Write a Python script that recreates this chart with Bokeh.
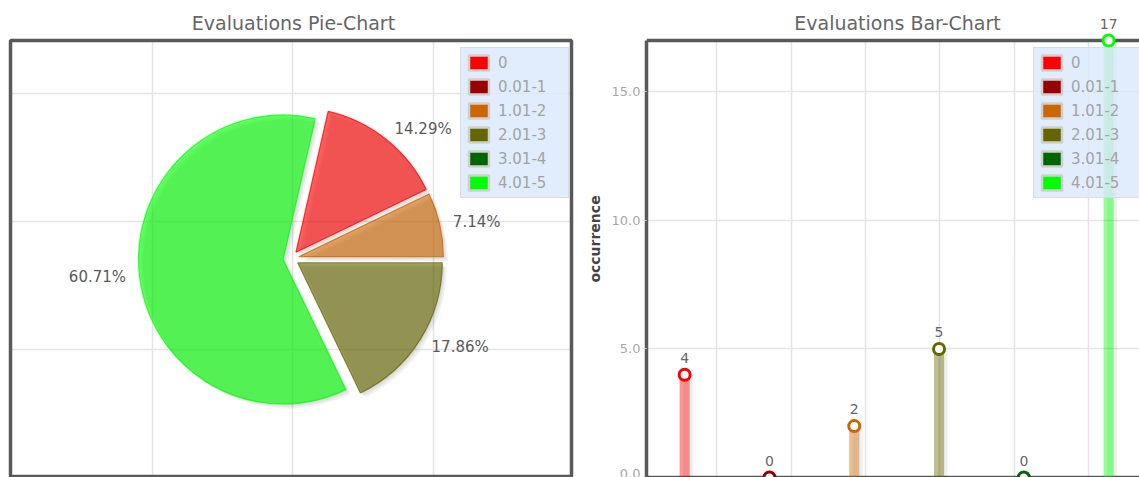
import math
from bokeh.plotting import figure
from bokeh.layouts import row
from bokeh.models import (Range1d, FixedTicker, Grid, ColumnDataSource, LabelSet, Label,
                          Legend, LegendItem, PrintfTickFormatter, Span, BoxAnnotation)
from bokeh.core.properties import value, field
from bokeh.transform import dodge
from bokeh.embed import file_html
from bokeh.resources import INLINE

# ---------------- data ----------------
categories = ["0", "0.01-1", "1.01-2", "2.01-3", "3.01-4", "4.01-5"]
counts = [4, 0, 2, 5, 0, 17]
colors = ["#ff0000", "#990000", "#cc6600", "#666600", "#006600", "#00ff00"]
y_ticks = [0, 5, 10, 15]
y_max = 17

# ---------------- style ----------------
FONT = "DejaVu Sans"
TITLE_COLOR = "#666666"
GRID_COLOR = "#e4e4e4"
OUTLINE = "#595959"
PIE_START_DEG = 77.14
PIE_R = 144.5
PIE_EXPLODE = 8
PIE_LABEL_R = 166
LEG_W, LEG_H = 107, 149
H = 477          # page height (px)
TOP = 40         # top of the plotting boxes (px from page top)


def remove_grids(p):
    p.center = [r for r in p.center if not isinstance(r, Grid)]


def mask(p, **kw):
    p.add_layout(BoxAnnotation(fill_color="white", fill_alpha=1.0, line_color=None,
                               level="underlay", **kw))


def add_title(p, x, text):
    p.add_layout(Label(x=x, y=H - 22, x_units="screen", y_units="screen", text=text,
                       text_align="center", text_baseline="middle", text_font=FONT,
                       text_font_size="19px", text_color=TITLE_COLOR))


def make_legend(p, vx, vy):
    src = ColumnDataSource(dict(x=[float("nan")] * len(categories),
                                y=[float("nan")] * len(categories),
                                color=colors))
    r = p.rect(x="x", y="y", width=1, height=1, fill_color="color",
               line_color="#d0d0d0", line_width=2.5, source=src)
    items = [LegendItem(label=cat, renderers=[r], index=i)
             for i, cat in enumerate(categories)]
    leg = Legend(items=items, location=(vx, vy), margin=0, padding=5,
                 spacing=5, glyph_width=25, glyph_height=19, label_standoff=7,
                 label_width=65, label_text_font=FONT, label_text_font_size="15px",
                 label_text_color="#a3a3a3", background_fill_color="#d9e8fb",
                 background_fill_alpha=0.8, border_line_color="#c9d2dc",
                 border_line_width=1.5)
    p.add_layout(leg)


# ---------------- pie chart (data units = page pixels, y measured from bottom) ----------------
W1 = 580
BOX_L, BOX_R, BOX_B, BOX_T = 10, 571, 1, H - TOP
p1 = figure(width=W1, height=H, x_range=Range1d(0, W1), y_range=Range1d(0, H),
            x_axis_location=None, y_axis_location=None, toolbar_location=None,
            output_backend="svg", min_border_left=0, min_border_right=0,
            min_border_top=0, min_border_bottom=0)
p1.outline_line_color = None
remove_grids(p1)
p1.add_layout(Grid(dimension=0, ticker=FixedTicker(ticks=[152, 292, 433]),
                   grid_line_color=GRID_COLOR, grid_line_width=1.5, level="image"))
p1.add_layout(Grid(dimension=1, ticker=FixedTicker(ticks=[128, 256, 384]),
                   grid_line_color=GRID_COLOR, grid_line_width=1.5, level="image"))
mask(p1, bottom=BOX_T)
mask(p1, right=BOX_L)
mask(p1, left=BOX_R)
p1.add_layout(BoxAnnotation(left=BOX_L, right=BOX_R, bottom=BOX_B, top=BOX_T,
                            fill_alpha=0, line_color=OUTLINE, line_alpha=1.0,
                            line_width=3.5, level="overlay"))

total = sum(counts)
cx, cy = (BOX_L + BOX_R) / 2, (BOX_B + BOX_T) / 2
start = math.radians(PIE_START_DEG)
pie = dict(x=[], y=[], a0=[], a1=[], color=[], lx=[], ly=[], pct=[], align=[])
acc = 0
for cat, v, c in zip(categories, counts, colors):
    if v > 0:
        a1 = start - acc / total * 2 * math.pi
        a0 = a1 - v / total * 2 * math.pi
        mid = (a0 + a1) / 2
        pie["x"].append(cx + PIE_EXPLODE * math.cos(mid))
        pie["y"].append(cy + PIE_EXPLODE * math.sin(mid))
        pie["a0"].append(a0)
        pie["a1"].append(a1)
        pie["color"].append(c)
        pie["lx"].append(cx + PIE_LABEL_R * math.cos(mid))
        pie["ly"].append(cy + PIE_LABEL_R * math.sin(mid))
        pie["pct"].append(f"{v / total * 100:.2f}%")
        pie["align"].append("left" if math.cos(mid) >= 0 else "right")
    acc += v
pie_src = ColumnDataSource(pie)

for k in (1.5, 3.0, 4.5):
    p1.wedge(x=dodge("x", k, range=p1.x_range), y=dodge("y", -k, range=p1.y_range),
             radius=PIE_R, start_angle="a0", end_angle="a1", direction="anticlock",
             fill_color="#000000", fill_alpha=0.05, line_color=None, source=pie_src)
p1.wedge(x="x", y="y", radius=PIE_R, start_angle="a0", end_angle="a1",
         direction="anticlock", fill_color="color", fill_alpha=0.62,
         line_color="color", line_alpha=0.75, line_width=1.2, source=pie_src)
p1.text(x="lx", y="ly", text="pct", text_align=field("align"), text_baseline="middle",
        text_font=value(FONT), text_font_size="15px", text_color="#5a5a5a",
        source=pie_src)
add_title(p1, 293, "Evaluations Pie-Chart")
make_legend(p1, 460, H - 49 - LEG_H)

# ---------------- bar chart ----------------
y_end = y_max * H / (H - TOP)
xs = list(range(1, len(categories) + 1))
bar_src = ColumnDataSource(dict(x=xs, count=counts, color=colors,
                                label=[str(v) for v in counts]))

p2 = figure(width=559, height=H, x_range=Range1d(0.55, 6.364), y_range=Range1d(0, y_end),
            x_axis_location=None, y_axis_location="left", toolbar_location=None,
            output_backend="svg", min_border_left=66, min_border_right=0,
            min_border_top=0, min_border_bottom=0)
p2.outline_line_color = None
remove_grids(p2)
p2.add_layout(Grid(dimension=0, ticker=FixedTicker(ticks=[1.38, 2.256, 3.132, 4.008, 4.884, 5.76]),
                   grid_line_color=GRID_COLOR, grid_line_width=1.5, level="image"))
p2.add_layout(Grid(dimension=1, ticker=FixedTicker(ticks=y_ticks),
                   grid_line_color=GRID_COLOR, grid_line_width=1.5, level="image"))
mask(p2, bottom=y_max)
p2.add_layout(Span(location=y_max, dimension="width", line_color=OUTLINE,
                   line_width=3.5, level="underlay"))
p2.add_layout(Span(location=0, dimension="width", line_color=OUTLINE,
                   line_width=3.5, level="underlay"))

ya = p2.yaxis[0]
ya.bounds = (0, y_max)
ya.ticker = FixedTicker(ticks=y_ticks)
ya.formatter = PrintfTickFormatter(format="%.1f")
ya.axis_line_color = OUTLINE
ya.axis_line_width = 3.5
ya.major_tick_line_color = "#d8d8d8"
ya.major_tick_out = 4
ya.major_tick_in = 0
ya.minor_tick_line_color = None
ya.major_label_standoff = 2
ya.major_label_text_font = FONT
ya.major_label_text_font_size = "13px"
ya.major_label_text_color = "#a8a8a8"
ya.axis_label = "occurrence"
ya.axis_label_text_font = FONT
ya.axis_label_text_font_size = "14px"
ya.axis_label_text_font_style = "bold"
ya.axis_label_text_color = "#444444"
ya.axis_label_standoff = 6

p2.vbar(x=dodge("x", 0.04, range=p2.x_range), top="count", width=0.12,
        fill_color="#000000", fill_alpha=0.06, line_color=None, source=bar_src)
p2.vbar(x="x", top="count", width=0.12, fill_color="color", fill_alpha=0.42,
        line_color=None, source=bar_src)
p2.scatter(x="x", y="count", size=11, fill_color="white", line_color="color",
           line_width=3, source=bar_src)
p2.add_layout(LabelSet(x="x", y="count", text="label", y_offset=17,
                       text_align="center", text_baseline="middle",
                       text_font=value(FONT), text_font_size="14px",
                       text_color="#666666", source=bar_src))
add_title(p2, 251, "Evaluations Bar-Chart")
make_legend(p2, 387, H - 49 - LEG_H)

layout = row(p1, p2)
open("out.html", "w").write(file_html(layout, INLINE))
